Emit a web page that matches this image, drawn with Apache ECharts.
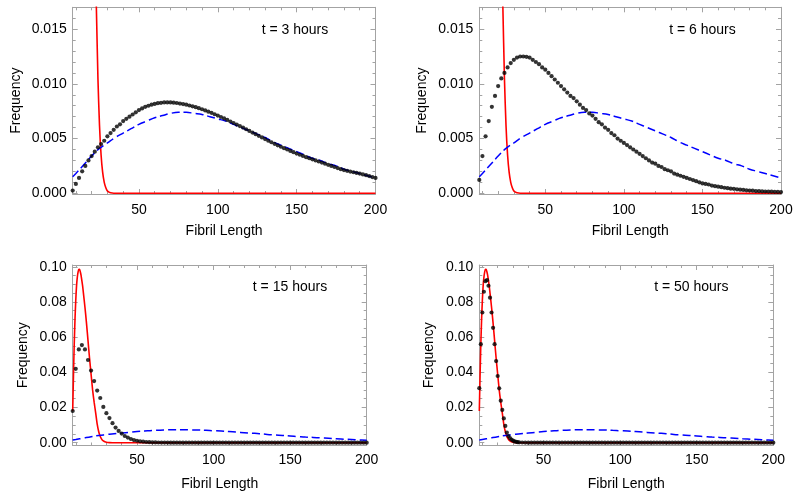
<!DOCTYPE html>
<html>
<head>
<meta charset="utf-8">
<script src="https://cdn.jsdelivr.net/npm/echarts@6/dist/echarts.min.js"></script>
<style>
html,body{margin:0;padding:0;background:#fff;}
#chart{width:800px;height:499px;}
</style>
</head>
<body>
<div id="chart"></div>
<script>
// ---------- data ----------
const panelTitles = ['t = 3 hours', 't = 6 hours', 't = 15 hours', 't = 50 hours'];
const xAxisName = 'Fibril Length';
const yAxisName = 'Frequency';

const xMajor = [50, 100, 150, 200];
const xMinor = [10, 20, 30, 40, 60, 70, 80, 90, 110, 120, 130, 140, 160, 170, 180, 190];
const yMajorTop = [0, 0.005, 0.010, 0.015];
const yMinorTop = [0.001, 0.002, 0.003, 0.004, 0.006, 0.007, 0.008, 0.009, 0.011, 0.012, 0.013, 0.014, 0.016];
const yMajorBottom = [0, 0.02, 0.04, 0.06, 0.08, 0.10];
const yMinorBottom = [0.005, 0.01, 0.015, 0.025, 0.03, 0.035, 0.045, 0.05, 0.055, 0.065, 0.07, 0.075, 0.085, 0.09, 0.095];

// red solid curve (same in every panel)
const redX = [8, 8.5, 9, 9.5, 10, 10.5, 11, 11.5, 12, 12.5,
  13, 13.5, 14, 14.5, 15, 16, 17, 18, 19, 20,
  21, 22, 23, 24, 25, 26, 27, 28, 29, 30,
  31, 32, 34, 36, 40, 60, 100, 150, 200];
const redY = [0.018, 0.038, 0.056, 0.070, 0.081, 0.089, 0.094, 0.097, 0.0985, 0.0985,
  0.097, 0.095, 0.092, 0.089, 0.085, 0.077, 0.068, 0.058, 0.048, 0.039,
  0.030, 0.023, 0.017, 0.0105, 0.0062, 0.0035, 0.0019, 0.001, 0.0005, 0.0002,
  0.0001, 0.00004, 0, 0, 0, 0, 0, 0, 0];

// blue dashed curve (same in every panel)
const blueX = [8, 10, 15, 20, 25, 30, 35, 40, 45, 50,
  55, 60, 65, 70, 75, 80, 85, 90, 95, 100,
  105, 110, 115, 120, 125, 130, 135, 140, 145, 150,
  155, 160, 165, 170, 175, 180, 185, 190, 195, 200];
const blueY = [0.0015, 0.0018, 0.0026, 0.0034, 0.0041, 0.0046, 0.0051, 0.0055, 0.0059, 0.0063,
  0.0066, 0.0069, 0.0071, 0.0073, 0.0074, 0.0074, 0.0073, 0.0072, 0.0070, 0.0068,
  0.0066, 0.0063, 0.0060, 0.0057, 0.0054, 0.0051, 0.0047, 0.0044, 0.0041, 0.0038,
  0.0035, 0.0032, 0.0030, 0.0027, 0.0025, 0.0022, 0.0020, 0.0018, 0.0016, 0.0014];

// black dotted data
const dotX = [8, 10, 12, 14, 16, 18, 20, 22, 24, 26,
  28, 30, 32, 34, 36, 38, 40, 42, 44, 46,
  48, 50, 52, 54, 56, 58, 60, 62, 64, 66,
  68, 70, 72, 74, 76, 78, 80, 82, 84, 86,
  88, 90, 92, 94, 96, 98, 100, 102, 104, 106,
  108, 110, 112, 114, 116, 118, 120, 122, 124, 126,
  128, 130, 132, 134, 136, 138, 140, 142, 144, 146,
  148, 150, 152, 154, 156, 158, 160, 162, 164, 166,
  168, 170, 172, 174, 176, 178, 180, 182, 184, 186,
  188, 190, 192, 194, 196, 198, 200];
const dots3h = [0.00024, 0.00085, 0.0014, 0.0020, 0.0025, 0.0030, 0.0034, 0.0038, 0.0042, 0.0045,
  0.0048, 0.0052, 0.0055, 0.0058, 0.0061, 0.0063, 0.0066, 0.0068, 0.0070, 0.0072,
  0.0074, 0.0076, 0.00775, 0.0079, 0.0080, 0.0081, 0.00817, 0.00823, 0.00827, 0.0083,
  0.0083, 0.0083, 0.00828, 0.00825, 0.0082, 0.00815, 0.0081, 0.00802, 0.00795, 0.00787,
  0.00778, 0.00768, 0.00757, 0.00746, 0.00735, 0.00722, 0.0071, 0.00697, 0.00684, 0.0067,
  0.00656, 0.00642, 0.00628, 0.00614, 0.006, 0.00585, 0.0057, 0.00555, 0.0054, 0.00525,
  0.0051, 0.00495, 0.0048, 0.00466, 0.00452, 0.00438, 0.00425, 0.00412, 0.004, 0.00387,
  0.00375, 0.00363, 0.00352, 0.00341, 0.0033, 0.0032, 0.0031, 0.003, 0.0029, 0.0028,
  0.0027, 0.0026, 0.0025, 0.0024, 0.0023, 0.0022, 0.00212, 0.00205, 0.00198, 0.00192,
  0.00186, 0.0018, 0.00172, 0.00165, 0.00157, 0.00148, 0.0014];
const dots6h = [0.00122, 0.0034, 0.0052, 0.0066, 0.0079, 0.0089, 0.0098, 0.0105, 0.011, 0.0115,
  0.0119, 0.0122, 0.0124, 0.0125, 0.0125, 0.01247, 0.0124, 0.0122, 0.012, 0.0118,
  0.0115, 0.0113, 0.011, 0.0107, 0.0104, 0.0101, 0.0098, 0.0095, 0.0092, 0.0089,
  0.0087, 0.0084, 0.0081, 0.0078, 0.0076, 0.0073, 0.0071, 0.0068, 0.0065, 0.0063,
  0.006, 0.0058, 0.0055, 0.0053, 0.005, 0.0048, 0.0046, 0.0044, 0.0042, 0.004,
  0.0038, 0.0036, 0.0034, 0.0032, 0.003, 0.0028, 0.0027, 0.0025, 0.0024, 0.0022,
  0.0021, 0.002, 0.0018, 0.0017, 0.0016, 0.0015, 0.0014, 0.0013, 0.0012, 0.0011,
  0.001, 0.0009, 0.00085, 0.0008, 0.0007, 0.00065, 0.0006, 0.00055, 0.0005, 0.00046,
  0.00042, 0.0004, 0.00036, 0.00033, 0.0003, 0.00027, 0.00025, 0.00023, 0.0002, 0.00019,
  0.00017, 0.00016, 0.00015, 0.00014, 0.00013, 0.00012, 0.00011];
const dots15h = [0.018, 0.042, 0.053, 0.0555, 0.053, 0.047, 0.041, 0.035, 0.0296, 0.0254,
  0.0203, 0.0168, 0.014, 0.0111, 0.0086, 0.0067, 0.0052, 0.0038, 0.0029, 0.0021,
  0.0015, 0.0011, 0.0008, 0.0006, 0.0004, 0.0003, 0.0002, 0.00015, 0.0001, 0.00007,
  0.00005, 0.00004, 0.00003, 0.00002, 0.00001, 0, 0, 0, 0, 0,
  0, 0, 0, 0, 0, 0, 0, 0, 0, 0,
  0, 0, 0, 0, 0, 0, 0, 0, 0, 0,
  0, 0, 0, 0, 0, 0, 0, 0, 0, 0,
  0, 0, 0, 0, 0, 0, 0, 0, 0, 0,
  0, 0, 0, 0, 0, 0, 0, 0, 0, 0,
  0, 0, 0, 0, 0, 0, 0];
const dotX50h = [8, 9, 10, 11, 12, 13, 14, 15, 16, 17,
  18, 19, 20, 21, 22, 23, 24, 25, 26, 27,
  28, 29, 30, 31, 32, 33, 34, 36, 38, 40,
  42, 44, 46, 48, 50, 52, 54, 56, 58, 60,
  62, 64, 66, 68, 70, 72, 74, 76, 78, 80,
  82, 84, 86, 88, 90, 92, 94, 96, 98, 100,
  102, 104, 106, 108, 110, 112, 114, 116, 118, 120,
  122, 124, 126, 128, 130, 132, 134, 136, 138, 140,
  142, 144, 146, 148, 150, 152, 154, 156, 158, 160,
  162, 164, 166, 168, 170, 172, 174, 176, 178, 180,
  182, 184, 186, 188, 190, 192, 194, 196, 198, 200];
const dots50h = [0.031, 0.056, 0.074, 0.0858, 0.0918, 0.0924, 0.0892, 0.0824, 0.074, 0.0653,
  0.056, 0.0464, 0.0379, 0.0309, 0.0239, 0.0186, 0.0138, 0.0095, 0.0058, 0.0038,
  0.0026, 0.0018, 0.0012, 0.0008, 0.0005, 0.0003, 0.0002, 0.0001, 0.00005, 0,
  0, 0, 0, 0, 0, 0, 0, 0, 0, 0,
  0, 0, 0, 0, 0, 0, 0, 0, 0, 0,
  0, 0, 0, 0, 0, 0, 0, 0, 0, 0,
  0, 0, 0, 0, 0, 0, 0, 0, 0, 0,
  0, 0, 0, 0, 0, 0, 0, 0, 0, 0,
  0, 0, 0, 0, 0, 0, 0, 0, 0, 0,
  0, 0, 0, 0, 0, 0, 0, 0, 0, 0,
  0, 0, 0, 0, 0, 0, 0, 0, 0, 0];

// ---------- layout / style ----------
const FONT = '"Liberation Sans", Arial, Helvetica, sans-serif';
const FRAME = '#a3a3a3';
const X_MIN = 8, X_MAX = 200;

const panels = [
  { grid: { left: 72.7, top: 7.3, width: 302.8, height: 186.7 }, yMin: -0.00007, yMax: 0.017, yMajor: yMajorTop, yMinor: yMinorTop, dec: 3,
    yNameGap: 50, xLabelMargin: 9, xNameGap: 30, dx: dotX, dy: dots3h, title: [295, 30] },
  { grid: { left: 479.3, top: 7.3, width: 301.7, height: 186.7 }, yMin: -0.00007, yMax: 0.017, yMajor: yMajorTop, yMinor: yMinorTop, dec: 3,
    yNameGap: 50, xLabelMargin: 9, xNameGap: 30, dx: dotX, dy: dots6h, title: [702.5, 30] },
  { grid: { left: 72.7, top: 265, width: 294, height: 180.5 }, yMin: -0.0016, yMax: 0.101, yMajor: yMajorBottom, yMinor: yMinorBottom, dec: 2,
    yNameGap: 43, xLabelMargin: 8, xNameGap: 32, dx: dotX, dy: dots15h, title: [290, 287.3] },
  { grid: { left: 479.3, top: 265, width: 294, height: 180.5 }, yMin: -0.0016, yMax: 0.101, yMajor: yMajorBottom, yMinor: yMinorBottom, dec: 2,
    yNameGap: 43, xLabelMargin: 8, xNameGap: 32, dx: dotX50h, dy: dots50h, title: [691.3, 287.3] }
];

function pairs(xs, ys) { return xs.map((x, i) => [x, ys[i]]); }

const grids = [], xAxes = [], yAxes = [], series = [], graphics = [];
panels.forEach((p, gi) => {
  grids.push(p.grid);
  const baseX = { type: 'value', gridIndex: gi, min: X_MIN, max: X_MAX, splitLine: { show: false } };
  const baseY = { type: 'value', gridIndex: gi, min: p.yMin, max: p.yMax, splitLine: { show: false } };
  const tick = (vals, len) => ({ show: true, inside: true, length: len, customValues: vals, lineStyle: { color: FRAME, width: 1 } });
  const line = (show) => ({ show: show, onZero: false, lineStyle: { color: FRAME, width: 1 } });
  xAxes.push(Object.assign({}, baseX, {
    position: 'bottom', axisLine: line(true), axisTick: tick(xMajor, 5),
    axisLabel: { show: true, customValues: xMajor, margin: p.xLabelMargin, color: '#000', fontFamily: FONT, fontSize: 14 },
    name: xAxisName, nameLocation: 'middle', nameGap: p.xNameGap,
    nameTextStyle: { color: '#000', fontFamily: FONT, fontSize: 14 }
  }));
  xAxes.push(Object.assign({}, baseX, { position: 'bottom', axisLine: line(false), axisTick: tick(xMinor, 3), axisLabel: { show: false } }));
  xAxes.push(Object.assign({}, baseX, { position: 'top', axisLine: line(true), axisTick: tick(xMajor, 5), axisLabel: { show: false } }));
  xAxes.push(Object.assign({}, baseX, { position: 'top', axisLine: line(false), axisTick: tick(xMinor, 3), axisLabel: { show: false } }));
  yAxes.push(Object.assign({}, baseY, {
    position: 'left', axisLine: line(true), axisTick: tick(p.yMajor, 5),
    axisLabel: { show: true, customValues: p.yMajor, margin: 6, color: '#000', fontFamily: FONT, fontSize: 14,
      formatter: (v) => Number(v).toFixed(p.dec) },
    name: yAxisName, nameLocation: 'middle', nameRotate: 90, nameGap: p.yNameGap,
    nameTextStyle: { color: '#000', fontFamily: FONT, fontSize: 14 }
  }));
  yAxes.push(Object.assign({}, baseY, { position: 'left', axisLine: line(false), axisTick: tick(p.yMinor, 3), axisLabel: { show: false } }));
  yAxes.push(Object.assign({}, baseY, { position: 'right', axisLine: line(true), axisTick: tick(p.yMajor, 5), axisLabel: { show: false } }));
  yAxes.push(Object.assign({}, baseY, { position: 'right', axisLine: line(false), axisTick: tick(p.yMinor, 3), axisLabel: { show: false } }));

  const xi = gi * 4, yi = gi * 4;
  series.push({
    type: 'line', xAxisIndex: xi, yAxisIndex: yi, data: pairs(redX, redY), showSymbol: false,
    smooth: 0.25, clip: true, lineStyle: { color: '#ff0000', width: 1.6 }, z: 2
  });
  series.push({
    type: 'line', xAxisIndex: xi, yAxisIndex: yi, data: pairs(blueX, blueY), showSymbol: false,
    smooth: 0.4, clip: true, lineStyle: { color: '#0000ff', width: 1.5, type: [8, 4] }, z: 3
  });
  series.push({
    type: 'scatter', xAxisIndex: xi, yAxisIndex: yi, data: pairs(p.dx, p.dy), symbol: 'circle',
    symbolSize: 4.2, clip: true, itemStyle: { color: '#000' }, z: 4
  });
  graphics.push({
    type: 'text', x: p.title[0], y: p.title[1], z: 10,
    style: { text: panelTitles[gi], fill: '#000', font: '14px ' + FONT, textAlign: 'center', textVerticalAlign: 'middle' }
  });
});

const chart = echarts.init(document.getElementById('chart'), null, { renderer: 'canvas' });
chart.setOption({
  animation: false,
  backgroundColor: '#fff',
  grid: grids,
  xAxis: xAxes,
  yAxis: yAxes,
  series: series,
  graphic: graphics
});
</script>
</body>
</html>
